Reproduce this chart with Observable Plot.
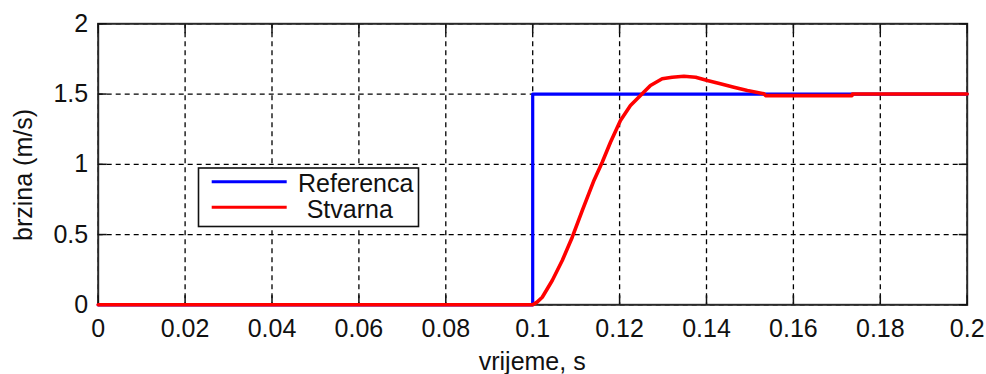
<!DOCTYPE html>
<html>
<head>
<meta charset="utf-8">
<script src="https://cdn.jsdelivr.net/npm/d3@7"></script>
<script src="https://cdn.jsdelivr.net/npm/@observablehq/plot@0.6"></script>
<style>
  html, body { margin: 0; padding: 0; background: #fff; }
  #chart { width: 986px; height: 374px; overflow: hidden; }
</style>
</head>
<body>
<div id="chart"></div>
<script>
// Axis ticks
const xTicks = [0, 0.02, 0.04, 0.06, 0.08, 0.1, 0.12, 0.14, 0.16, 0.18, 0.2];
const yTicks = [0, 0.5, 1, 1.5, 2];

// Referenca (blue step)
const refT = [0, 0.1, 0.1, 0.2];
const refV = [0, 0, 1.5, 1.5];

// Stvarna (red response)
const actT = [0, 0.1, 0.101, 0.1022, 0.1045, 0.1068, 0.1091, 0.1114, 0.1141, 0.116, 0.1179, 0.1202, 0.1225, 0.1252, 0.1271, 0.1298, 0.1321, 0.1348, 0.1375, 0.1402, 0.1432, 0.1463, 0.1494, 0.1532, 0.1536, 0.1735, 0.1736, 0.2];
const actV = [0, 0, 0.019, 0.054, 0.173, 0.315, 0.481, 0.671, 0.885, 1.015, 1.157, 1.312, 1.418, 1.502, 1.561, 1.609, 1.62, 1.627, 1.62, 1.596, 1.573, 1.549, 1.525, 1.502, 1.489, 1.489, 1.5, 1.5];

const seriesNames = ["Referenca", "Stvarna"];
const seriesColors = ["#0000ff", "#ff0000"];
const xLabel = "vrijeme, s";
const yLabel = "brzina (m/s)";

const ref = refT.map((t, i) => ({t, v: refV[i]}));
const act = actT.map((t, i) => ({t, v: actV[i]}));

const fmt = d => String(+d.toFixed(2));
const font = "'Liberation Sans', Arial, sans-serif";

const ml = 97.7, mr = 19.3, mt = 23.3, mb = 69.7;

const chart = Plot.plot({
  width: 986,
  height: 374,
  marginLeft: ml,
  marginRight: mr,
  marginTop: mt,
  marginBottom: mb,
  style: {fontFamily: font, fontSize: "25px", color: "#111", background: "#fff", overflow: "visible"},
  x: {domain: [0, 0.2]},
  y: {domain: [0, 2]},
  marks: [
    Plot.gridX(xTicks, {stroke: "#000", strokeOpacity: 1, strokeWidth: 1.3, strokeDasharray: "5,4"}),
    Plot.gridY(yTicks, {stroke: "#000", strokeOpacity: 1, strokeWidth: 1.3, strokeDasharray: "5,4"}),
    Plot.frame({stroke: "#2a2a2a", strokeWidth: 2}),
    // inward ticks
    Plot.axisX(xTicks, {anchor: "bottom", tickSize: 9, dy: -9, tickFormat: () => "", label: null, stroke: "#111", strokeWidth: 1.5}),
    Plot.axisX(xTicks, {anchor: "top", tickSize: 9, dy: 9, tickFormat: () => "", label: null, stroke: "#111", strokeWidth: 1.5}),
    Plot.axisY(yTicks, {anchor: "left", tickSize: 9, dx: 9, tickFormat: () => "", label: null, stroke: "#111", strokeWidth: 1.5}),
    Plot.axisY(yTicks, {anchor: "right", tickSize: 9, dx: -9, tickFormat: () => "", label: null, stroke: "#111", strokeWidth: 1.5}),
    // tick labels
    Plot.axisX(xTicks, {anchor: "bottom", tickSize: 0, tickPadding: 14, tickFormat: fmt, label: null}),
    Plot.axisY(yTicks, {anchor: "left", tickSize: 0, tickPadding: 10, tickFormat: fmt, label: null}),
    // series
    Plot.line(ref, {x: "t", y: "v", stroke: seriesColors[0], strokeWidth: 3.2}),
    Plot.line(act, {x: "t", y: "v", stroke: seriesColors[1], strokeWidth: 3.6, curve: "linear"})
  ]
});

document.getElementById("chart").appendChild(chart);

// axis titles and legend
const svg = d3.select(chart);
svg.append("text")
  .attr("x", (ml + 986 - mr) / 2).attr("y", 370)
  .attr("text-anchor", "middle")
  .attr("fill", "#111").style("font-family", font).style("font-size", "25px")
  .text(xLabel);
svg.append("text")
  .attr("transform", "translate(31.5,175) rotate(-90)")
  .attr("text-anchor", "middle")
  .attr("fill", "#111").style("font-family", font).style("font-size", "25px")
  .text(yLabel);

const lg = svg.append("g");
lg.append("rect").attr("x", 198.5).attr("y", 168).attr("width", 220).attr("height", 58.5)
  .attr("fill", "#fff").attr("stroke", "#111").attr("stroke-width", 1.6);
const rowsY = [181.7, 207.3];
const textX = [298, 306.7];
seriesNames.forEach((name, i) => {
  lg.append("line").attr("x1", 211.7).attr("x2", 286.7).attr("y1", rowsY[i]).attr("y2", rowsY[i])
    .attr("stroke", seriesColors[i]).attr("stroke-width", 3);
  lg.append("text").attr("x", textX[i]).attr("y", rowsY[i] + 10.6)
    .attr("text-anchor", "start")
    .attr("fill", "#111").style("font-family", font).style("font-size", "25px")
    .text(name);
});
</script>
</body>
</html>
